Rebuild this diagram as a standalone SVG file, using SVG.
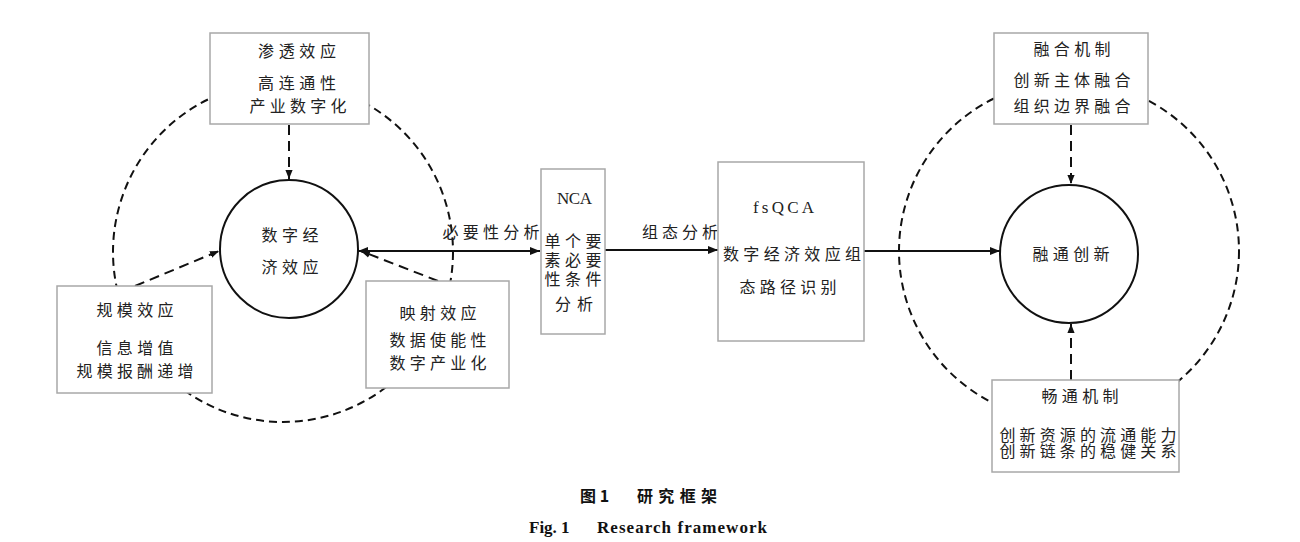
<svg xmlns="http://www.w3.org/2000/svg" width="1300" height="542" viewBox="0 0 1300 542">
<style>
.box{fill:#fff;stroke:#a8a8a8;stroke-width:1.5}
.circ{fill:#fff;stroke:#111;stroke-width:2}
.ring{fill:none;stroke:#111;stroke-width:2;stroke-dasharray:8 5}
.dash{fill:none;stroke:#111;stroke-width:2;stroke-dasharray:10 6}
.solid{fill:none;stroke:#111;stroke-width:2}
.cn{font-family:"Noto Sans CJK SC","Noto Sans",sans-serif;font-size:16px;fill:#222;text-anchor:middle}
.lat{font-family:"Liberation Serif",serif;font-size:17px;fill:#222;text-anchor:middle;letter-spacing:3px}
.cap{font-family:"Noto Sans CJK SC",sans-serif;font-size:16px;font-weight:bold;fill:#111}
.capen{font-family:"Liberation Serif",serif;font-size:17px;font-weight:bold;fill:#111}
</style>
<defs>
<marker id="ah" viewBox="0 0 10 10" refX="10" refY="5" markerWidth="10" markerHeight="10" markerUnits="userSpaceOnUse" orient="auto-start-reverse">
<path d="M0,1 L10,5 L0,9 z" fill="#111"/>
</marker>
<marker id="ahs" viewBox="0 0 10 10" refX="10" refY="5" markerWidth="9" markerHeight="9" markerUnits="userSpaceOnUse" orient="auto">
<path d="M0,1 L10,5 L0,9 z" fill="#111"/>
</marker>
</defs>

<g id="rings">
<circle class="ring" cx="283" cy="252" r="170"/>
<circle class="ring" cx="1069" cy="251" r="170"/>
</g>

<g id="connectors">
<line class="dash" x1="289" y1="125" x2="289" y2="179" marker-end="url(#ahs)"/>
<line class="dash" x1="135" y1="286" x2="219" y2="251" marker-end="url(#ahs)"/>
<line class="dash" x1="438" y1="281" x2="361" y2="251" marker-end="url(#ahs)"/>
<line class="solid" x1="358" y1="251" x2="540" y2="251" marker-start="url(#ah)" marker-end="url(#ah)"/>
<line class="solid" x1="605" y1="250" x2="718" y2="250" marker-end="url(#ah)"/>
<line class="solid" x1="864" y1="251" x2="1000" y2="251" marker-end="url(#ah)"/>
<line class="dash" x1="1071" y1="125" x2="1071" y2="184" marker-end="url(#ahs)"/>
<line class="dash" x1="1071" y1="380" x2="1071" y2="324" marker-end="url(#ahs)"/>
<text class="cn" x="491" y="238" textLength="97" lengthAdjust="spacing">必要性分析</text>
<text class="cn" x="680" y="238" textLength="76" lengthAdjust="spacing">组态分析</text>
</g>

<g id="node-shentou">
<rect class="box" x="210" y="33" width="159" height="91"/>
<text class="cn" x="297" y="57" textLength="78" lengthAdjust="spacing">渗透效应</text>
<text class="cn" x="297" y="89" textLength="78" lengthAdjust="spacing">高连通性</text>
<text class="cn" x="298" y="112" textLength="97" lengthAdjust="spacing">产业数字化</text>
</g>

<g id="node-digital">
<circle class="circ" cx="289" cy="249" r="69"/>
<text class="cn" x="290" y="241" textLength="57" lengthAdjust="spacing">数字经</text>
<text class="cn" x="290" y="273" textLength="57" lengthAdjust="spacing">济效应</text>
</g>

<g id="node-guimo">
<rect class="box" x="57" y="286" width="155" height="107"/>
<text class="cn" x="135" y="316" textLength="77" lengthAdjust="spacing">规模效应</text>
<text class="cn" x="135" y="354" textLength="77" lengthAdjust="spacing">信息增值</text>
<text class="cn" x="135" y="377" textLength="117" lengthAdjust="spacing">规模报酬递增</text>
</g>

<g id="node-yingshe">
<rect class="box" x="366" y="281" width="143" height="107"/>
<text class="cn" x="438" y="319" textLength="77" lengthAdjust="spacing">映射效应</text>
<text class="cn" x="438" y="346" textLength="97" lengthAdjust="spacing">数据使能性</text>
<text class="cn" x="438" y="369" textLength="97" lengthAdjust="spacing">数字产业化</text>
</g>

<g id="node-nca">
<rect class="box" x="541" y="169" width="64" height="165"/>
<text class="lat" x="576" y="204" textLength="38" lengthAdjust="spacing">NCA</text>
<text class="cn" x="573" y="247" textLength="57" lengthAdjust="spacing">单个要</text>
<text class="cn" x="573" y="266" textLength="57" lengthAdjust="spacing">素必要</text>
<text class="cn" x="573" y="285" textLength="57" lengthAdjust="spacing">性条件</text>
<text class="cn" x="574" y="310" textLength="38" lengthAdjust="spacing">分析</text>
</g>

<g id="node-fsqca">
<rect class="box" x="718" y="162" width="146" height="179"/>
<text class="lat" x="785" y="213" textLength="64" lengthAdjust="spacing">fsQCA</text>
<text class="cn" x="792" y="260" textLength="138" lengthAdjust="spacing">数字经济效应组</text>
<text class="cn" x="788" y="293" textLength="97" lengthAdjust="spacing">态路径识别</text>
</g>

<g id="node-ronghe">
<rect class="box" x="994" y="33" width="154" height="91"/>
<text class="cn" x="1072" y="55" textLength="77" lengthAdjust="spacing">融合机制</text>
<text class="cn" x="1072" y="86" textLength="117" lengthAdjust="spacing">创新主体融合</text>
<text class="cn" x="1072" y="112" textLength="117" lengthAdjust="spacing">组织边界融合</text>
</g>

<g id="node-rongtong">
<circle class="circ" cx="1069" cy="254" r="69"/>
<text class="cn" x="1071" y="260" textLength="77" lengthAdjust="spacing">融通创新</text>
</g>

<g id="node-changtong">
<rect class="box" x="992" y="380" width="187" height="92"/>
<text class="cn" x="1080" y="402" textLength="77" lengthAdjust="spacing">畅通机制</text>
<text class="cn" x="1088" y="441" textLength="177" lengthAdjust="spacing">创新资源的流通能力</text>
<text class="cn" x="1088" y="457" textLength="177" lengthAdjust="spacing">创新链条的稳健关系</text>
</g>

<g id="caption">
<text class="cap" x="580" y="502">图 1</text>
<text class="cap" x="637" y="502" textLength="80" lengthAdjust="spacing">研究框架</text>
<text class="capen" x="529" y="533">Fig. 1</text>
<text class="capen" x="597" y="533" textLength="170" lengthAdjust="spacing">Research framework</text>
</g>
</svg>
